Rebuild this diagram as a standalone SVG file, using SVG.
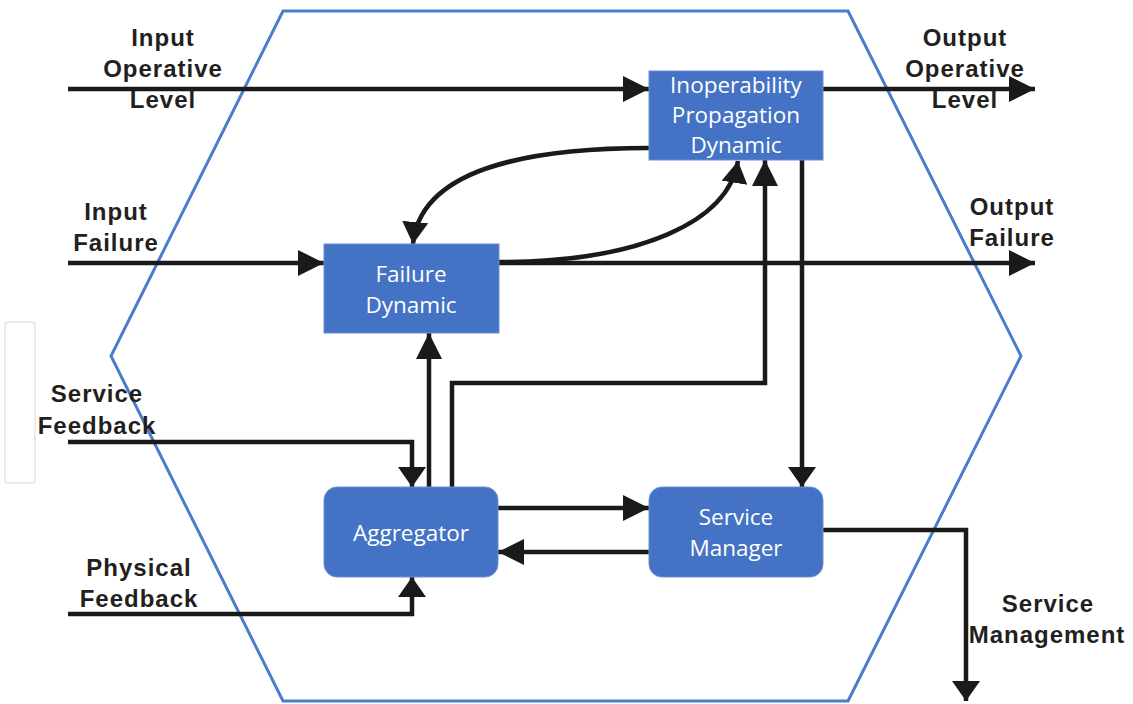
<svg xmlns="http://www.w3.org/2000/svg" width="1133" height="704" viewBox="0 0 1133 704">
<style>
.lbl{font-family:"Liberation Sans",Arial,sans-serif;font-weight:bold;font-size:24px;letter-spacing:1px;fill:#231f20;text-anchor:middle}
.bt{font-family:"Open Sans","Noto Sans",sans-serif;font-size:22.5px;fill:#ffffff;text-anchor:middle}
.box{fill:#4472c4;stroke:#6a8fd6;stroke-width:1}
.c{fill:none;stroke:#1a1a1a;stroke-width:4.5}
</style>
<defs>
<marker id="ah" markerUnits="userSpaceOnUse" markerWidth="26" markerHeight="26" refX="26" refY="13" orient="auto"><path d="M0,0 L26,13 L0,26 z" fill="#1a1a1a"/></marker>
<marker id="ahm" markerUnits="userSpaceOnUse" markerWidth="22" markerHeight="28" refX="20" refY="14" orient="auto"><path d="M0,0 L20,14 L0,28 z" fill="#1a1a1a"/></marker>
<marker id="ahc" markerUnits="userSpaceOnUse" markerWidth="24" markerHeight="26" refX="22" refY="13" orient="auto"><path d="M0,0 L22,13 L0,26 z" fill="#1a1a1a"/></marker>
</defs>
<rect width="1133" height="704" fill="#ffffff"/>
<rect x="5" y="322" width="30" height="161" rx="3" fill="none" stroke="#e8ecef" stroke-width="2"/>
<polygon points="283,11 848,11 1021,356 848,701 283,701 111,356" fill="none" stroke="#4a7dcc" stroke-width="3"/>
<g id="connectors">
<path class="c" d="M68,89 H649" marker-end="url(#ah)"/>
<path class="c" d="M823,89 H1035" marker-end="url(#ah)"/>
<path class="c" d="M68,263 H324" marker-end="url(#ah)"/>
<path class="c" d="M499,263 H1035" marker-end="url(#ah)"/>
<path class="c" d="M649,148 C520,148 420,172 413,244" marker-end="url(#ahc)"/>
<path class="c" d="M499,262 C640,262 728,222 738,161" marker-end="url(#ahc)"/>
<path class="c" d="M429,487 V333" marker-end="url(#ah)"/>
<path class="c" d="M452,487 V383 H765 V160" marker-end="url(#ah)"/>
<path class="c" d="M802,160 V487" marker-end="url(#ahm)"/>
<path class="c" d="M68,442 H412 V487" marker-end="url(#ahm)"/>
<path class="c" d="M68,614 H412 V577" marker-end="url(#ahm)"/>
<path class="c" d="M498,508 H649" marker-end="url(#ah)"/>
<path class="c" d="M649,552 H498" marker-end="url(#ah)"/>
<path class="c" d="M823,530 H966 V701" marker-end="url(#ahm)"/>
</g>
<g id="inoperability">
<rect class="box" x="649" y="71" width="174" height="89"/>
<text class="bt" x="736" y="93">Inoperability</text>
<text class="bt" x="736" y="123">Propagation</text>
<text class="bt" x="736" y="153">Dynamic</text>
</g>
<g id="failure-dynamic">
<rect class="box" x="324" y="244" width="175" height="89"/>
<text class="bt" x="411" y="282">Failure</text>
<text class="bt" x="411" y="313">Dynamic</text>
</g>
<g id="aggregator">
<rect class="box" x="324" y="487" width="174" height="90" rx="13"/>
<text class="bt" x="411" y="541">Aggregator</text>
</g>
<g id="service-manager">
<rect class="box" x="649" y="487" width="174" height="90" rx="13"/>
<text class="bt" x="736" y="525">Service</text>
<text class="bt" x="736" y="556">Manager</text>
</g>
<g id="labels">
<text class="lbl" x="163" y="46">Input</text>
<text class="lbl" x="163" y="77">Operative</text>
<text class="lbl" x="163" y="108">Level</text>
<text class="lbl" x="965" y="46">Output</text>
<text class="lbl" x="965" y="77">Operative</text>
<text class="lbl" x="965" y="108">Level</text>
<text class="lbl" x="116" y="220">Input</text>
<text class="lbl" x="116" y="251">Failure</text>
<text class="lbl" x="1012" y="215">Output</text>
<text class="lbl" x="1012" y="246">Failure</text>
<text class="lbl" x="97" y="402">Service</text>
<text class="lbl" x="97" y="434">Feedback</text>
<text class="lbl" x="139" y="576">Physical</text>
<text class="lbl" x="139" y="607">Feedback</text>
<text class="lbl" x="1048" y="612">Service</text>
<text class="lbl" x="1047" y="643">Management</text>
</g>
</svg>
